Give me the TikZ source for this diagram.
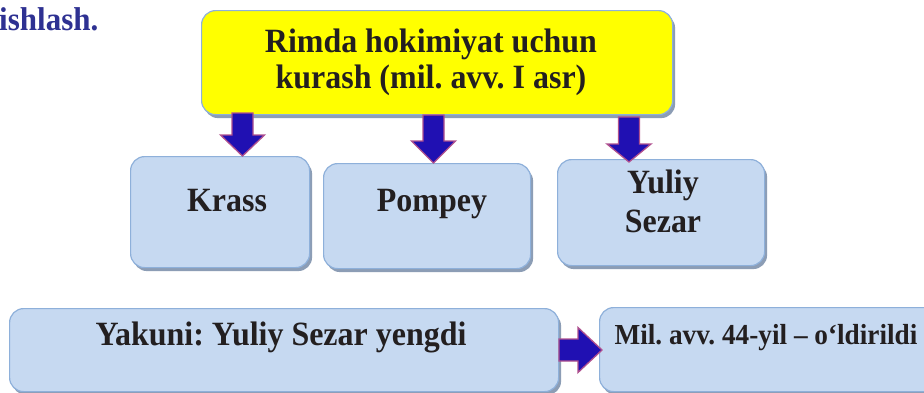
\documentclass[tikz,border=0pt]{standalone}
\usepackage{fontspec}
\setmainfont{Liberation Serif}
\newfontfamily\condserif[FakeStretch=0.94]{Liberation Serif}
\usetikzlibrary{calc,shadows}
\definecolor{boxfill}{HTML}{C6D9F1}
\definecolor{boxline}{HTML}{8EB0DA}
\definecolor{shadowc}{HTML}{8C9DB5}
\definecolor{titlefill}{HTML}{FFFF00}
\definecolor{arrfill}{HTML}{2010B2}
\definecolor{arrline}{HTML}{B0508E}
\definecolor{headblue}{HTML}{2E3192}
\definecolor{txt}{HTML}{231F20}
\newcommand\dnblockarrow[3]{% start, tip, head length
  \draw[blockarrow] ($(#1)+(-10.5,0)$) -- ($(#1)+(10.5,0)$) -- ($(#2)+(10.5,-#3)$) -- ($(#2)+(22,-#3)$) -- (#2) -- ($(#2)+(-22,-#3)$) -- ($(#2)+(-10.5,-#3)$) -- cycle;}
\newcommand\rtblockarrow[3]{% start, tip, head length
  \draw[blockarrow] ($(#1)+(0,-11)$) -- ($(#2)+(-#3,-11)$) -- ($(#2)+(-#3,-22.5)$) -- (#2) -- ($(#2)+(-#3,22.5)$) -- ($(#2)+(-#3,11)$) -- ($(#1)+(0,11)$) -- cycle;}
\frenchspacing
\begin{document}
\begin{tikzpicture}[x=1pt,y=-1pt,
  panel/.style={draw=boxline, line width=1.2pt, fill=boxfill, rounded corners=14pt,
    drop shadow={shadow xshift=2.5pt, shadow yshift=-3.5pt, fill=shadowc, opacity=1},
    inner sep=0pt, anchor=north west},
  titlepanel/.style={panel, fill=titlefill},
  label/.style={text=txt, font=\condserif\fontsize{34}{40}\selectfont\bfseries, anchor=base, inner sep=0pt},
  smalllabel/.style={label, font=\condserif\fontsize{29}{34}\selectfont\bfseries},
  blockarrow/.style={fill=arrfill, draw=arrline, line width=1.3pt, line join=miter}
]
\useasboundingbox (0,0) rectangle (924,392);
\clip (0,0) rectangle (924,392);
\fill[white] (0,0) rectangle (924,392);

% heading fragment
\node[anchor=base west, inner sep=0pt, text=headblue, font=\condserif\fontsize{33}{38}\selectfont\bfseries] (heading) at (-1,30) {ishlash.};

% boxes
\node[titlepanel, minimum width=471pt, minimum height=104pt] (title) at (201,10) {};
\node[panel, minimum width=179pt, minimum height=111pt] (krass) at (130,156) {};
\node[panel, minimum width=207pt, minimum height=105pt] (pompey) at (323,163) {};
\node[panel, minimum width=207pt, minimum height=106pt] (sezar) at (557,159) {};
\node[panel, minimum width=549pt, minimum height=83pt] (yakuni) at (9,308) {};
\node[panel, minimum width=340pt, minimum height=84pt] (mil) at (599,307) {};

% texts
\node[label] (title1) at (431,52) {Rimda hokimiyat uchun};
\node[label] (title2) at (431,88) {kurash (mil. avv. I asr)};
\node[label] (krasst) at (227,211) {Krass};
\node[label] (pompeyt) at (432,211) {Pompey};
\node[label] (sezar1) at (663,193) {Yuliy};
\node[label] (sezar2) at (663,232) {Sezar};
\node[label] (yakunit) at (281,345) {Yakuni: Yuliy Sezar yengdi};
\node[smalllabel] (milt) at (766,344) {Mil. avv. 44-yil – o‘ldirildi};

% arrows
\coordinate (a1s) at (242.5,113); \coordinate (a1e) at (242.5,156);
\coordinate (a2s) at (433.5,115); \coordinate (a2e) at (433.5,163);
\coordinate (a3s) at (629,117);   \coordinate (a3e) at (629,162);
\coordinate (a4s) at (559,350);   \coordinate (a4e) at (602,350);
\dnblockarrow{a1s}{a1e}{21}
\dnblockarrow{a2s}{a2e}{22}
\dnblockarrow{a3s}{a3e}{18}
\rtblockarrow{a4s}{a4e}{24}
\end{tikzpicture}
\end{document}
